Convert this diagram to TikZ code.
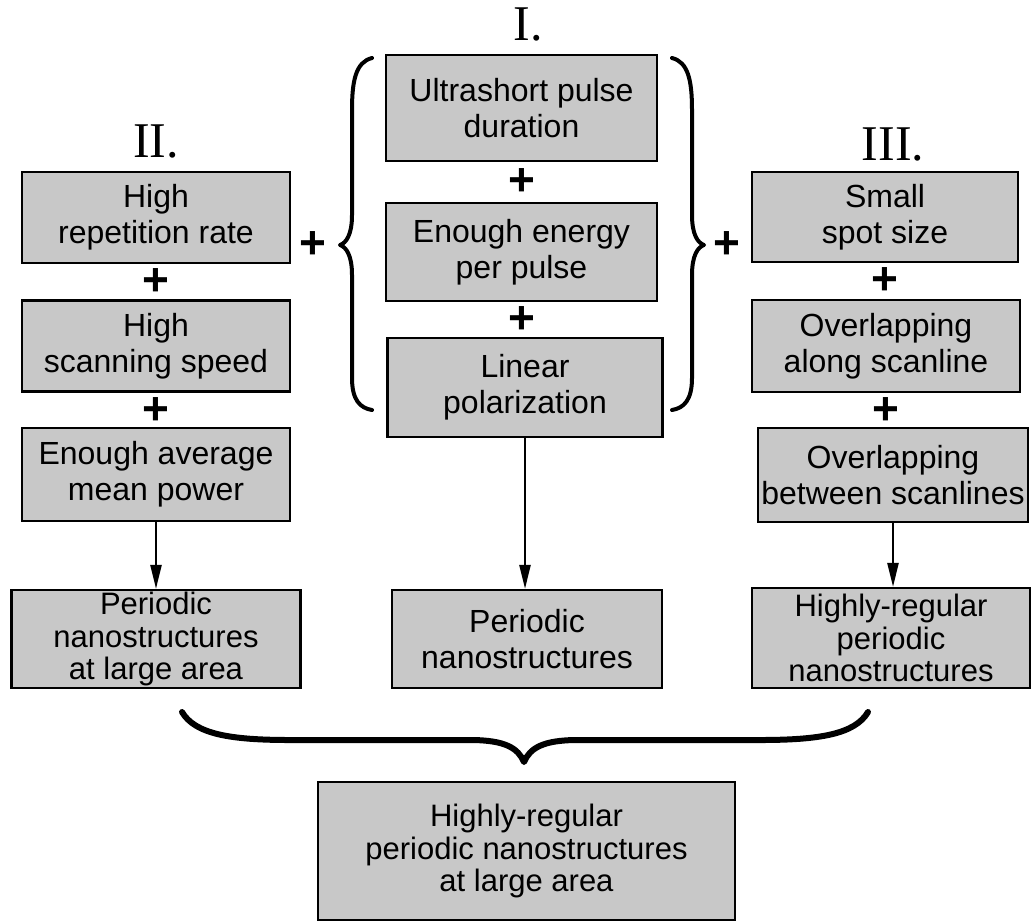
\documentclass[tikz,border=0pt]{standalone}
\usepackage{fontspec}
\setmainfont{Liberation Serif}
\setsansfont{Liberation Sans}
\usetikzlibrary{arrows.meta}
\definecolor{boxfill}{RGB}{200,200,200}
\tikzset{
 box/.style={draw=black, line width=2.2pt, fill=boxfill, align=center, font=\sffamily\fontsize{32}{36}\selectfont, inner sep=0pt},
 box3/.style={box, font=\sffamily\fontsize{31}{32.5}\selectfont},
 plus/.style={font=\sffamily\bfseries\fontsize{46}{46}\selectfont, inner sep=0pt},
 roman/.style={font=\rmfamily\fontsize{50}{50}\selectfont, inner sep=0pt},
 arr/.style={line width=2.4pt, -{Triangle[length=24pt,width=11pt]}},
 bracev/.style={line width=4pt, line cap=round, line join=round},
 braceh/.style={line width=6pt, line cap=round, line join=round}
}
\begin{document}
\begin{tikzpicture}[x=1pt,y=-1pt]
\useasboundingbox (0,0) rectangle (1032,922);
% labels
\node[roman] (labII) at (156,141) {II.};
\node[roman] (labI) at (528,24) {I.};
\node[roman] (labIII) at (893,144) {III.};
% left column
\node[box, minimum width=268pt, minimum height=91pt] (L1) at (156,217.5) {High\\repetition rate};
\node[plus] (pL1) at (156,282) {+};
\node[box, minimum width=268pt, minimum height=91pt] (L2) at (156,346) {High\\scanning speed};
\node[plus] (pL2) at (156,411) {+};
\node[box, minimum width=268pt, minimum height=93pt] (L3) at (156,474.5) {Enough average\\mean power};
\node[box3, minimum width=289pt, minimum height=98pt] (LR) at (156,639) {Periodic\\nanostructures\\at large area};
% middle column
\node[box, minimum width=271pt, minimum height=106pt] (M1) at (521.5,108) {Ultrashort pulse\\duration};
\node[plus] (pM1) at (521.5,182) {+};
\node[box, minimum width=271pt, minimum height=98pt] (M2) at (521.5,252) {Enough energy\\per pulse};
\node[plus] (pM2) at (521.5,320) {+};
\node[box, minimum width=275pt, minimum height=99pt] (M3) at (525,387.5) {Linear\\polarization};
\node[box, minimum width=270pt, minimum height=98pt] (MR) at (527,639) {Periodic\\nanostructures};
% right column
\node[box, minimum width=266pt, minimum height=90pt] (R1) at (885,217) {Small\\spot size};
\node[plus] (pR1) at (885,281) {+};
\node[box, minimum width=268pt, minimum height=92pt] (R2) at (886,346) {Overlapping\\along scanline};
\node[plus] (pR2) at (886,411) {+};
\node[box, minimum width=270pt, minimum height=94pt] (R3) at (893,475) {Overlapping\\between scanlines};
\node[box3, minimum width=278pt, minimum height=100pt] (RR) at (891,638) {Highly-regular\\periodic\\nanostructures};
% final
\node[box3, minimum width=417pt, minimum height=138pt] (F) at (526.5,851) {Highly-regular\\periodic nanostructures\\at large area};
% outer plus signs
\node[plus] (pA) at (313,245) {+};
\node[plus] (pB) at (727,245) {+};
% braces
\draw[bracev] (372,58) .. controls (356,62) and (352,80) .. (352,110) -- (352,215)
  .. controls (352,235) and (346,243) .. (340,245)
  .. controls (346,247) and (352,255) .. (352,275) -- (352,378)
  .. controls (352,400) and (360,408) .. (372,410);
\draw[bracev] (672,58) .. controls (688,62) and (692,80) .. (692,110) -- (692,215)
  .. controls (692,235) and (698,243) .. (704,245)
  .. controls (698,247) and (692,255) .. (692,275) -- (692,378)
  .. controls (692,400) and (684,408) .. (672,410);
\draw[braceh] (182,712) .. controls (195,734) and (230,740) .. (290,740) -- (470,740)
  .. controls (505,740) and (518,748) .. (524,762)
  .. controls (530,748) and (543,740) .. (578,740) -- (760,740)
  .. controls (820,740) and (855,734) .. (868,712);
% arrows
\draw[arr] (L3.south) -- (L3.south |- LR.north);
\draw[arr] (M3.south) -- (M3.south |- MR.north);
\draw[arr] (R3.south) -- (R3.south |- RR.north);
\end{tikzpicture}
\end{document}
